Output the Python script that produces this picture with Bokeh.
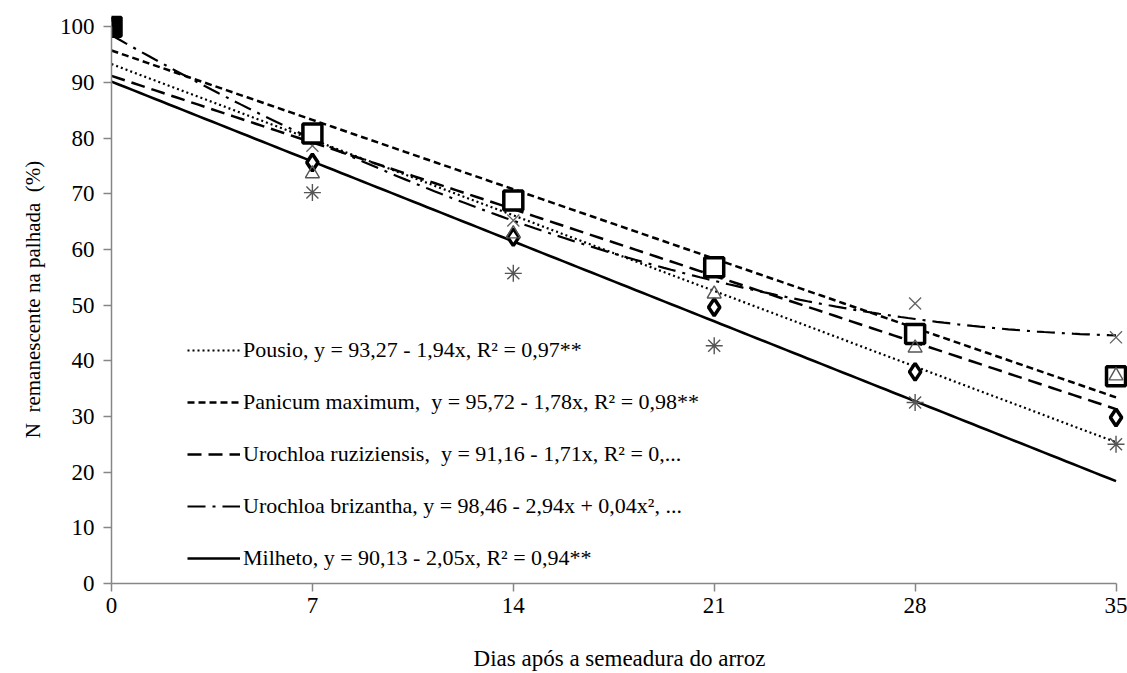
import numpy as np
from bokeh.plotting import figure
from bokeh.models import Legend, LegendItem, FixedTicker
from bokeh.embed import file_html
from bokeh.resources import INLINE

# ---------------- data ----------------
days = [0, 7, 14, 21, 28, 35]
pousio = [100, 75.6, 62.2, 49.6, 38.0, 29.8]
panicum = [100, 80.8, 68.8, 56.8, 44.8, 37.2]
ruziziensis = [100, 73.6, 62.8, 52.0, 42.3, 37.3]
brizantha = [100, 78.6, 65.2, 56.2, 50.3, 44.2]
milheto = [100, 70.2, 55.7, 42.7, 32.5, 25.0]

# regression coefficients (a, b, c) for y = a + b x + c x^2, as printed in the legend
coef_pousio = [93.27, -1.94, 0.0]
coef_panicum = [95.72, -1.78, 0.0]
coef_ruzi = [91.16, -1.71, 0.0]
coef_briz = [98.46, -2.94, 0.04]
coef_milheto = [90.13, -2.05, 0.0]

labels = [
    "Pousio, y = 93,27 - 1,94x, R\u00b2 = 0,97**",
    "Panicum maximum,\u00a0 y = 95,72 - 1,78x, R\u00b2 = 0,98**",
    "Urochloa ruziziensis,\u00a0 y = 91,16 - 1,71x, R\u00b2 = 0,...",
    "Urochloa brizantha, y = 98,46 - 2,94x + 0,04x\u00b2, ...",
    "Milheto, y = 90,13 - 2,05x, R\u00b2 = 0,94**",
]
x_title = "Dias após a semeadura do arroz"
y_title = "N\u00a0 remanescente na palhada\u00a0 (%)"
x_ticks = [0, 7, 14, 21, 28, 35]
y_ticks = [0, 10, 20, 30, 40, 50, 60, 70, 80, 90, 100]

FONT = "Liberation Serif"
AX = "#868686"

p = figure(width=1127, height=673, x_range=(0, 35.4), y_range=(0, 102),
           output_backend="svg", toolbar_location=None,
           min_border_left=111, min_border_right=0,
           min_border_top=15, min_border_bottom=90)
p.outline_line_color = None
p.xgrid.grid_line_color = None
p.ygrid.grid_line_color = None

for ax in (p.xaxis[0], p.yaxis[0]):
    ax.axis_line_color = AX
    ax.axis_line_width = 1.5
    ax.major_tick_line_color = AX
    ax.major_tick_line_width = 1.5
    ax.major_tick_out = 8
    ax.major_tick_in = 0
    ax.minor_tick_line_color = None
    ax.major_label_text_font = FONT
    ax.major_label_text_font_size = "23px"
    ax.major_label_text_color = "black"
    ax.axis_label_text_font = FONT
    ax.axis_label_text_font_style = "normal"
    ax.axis_label_text_color = "black"

p.xaxis.axis_label_text_font_size = "23px"
p.yaxis.axis_label_text_font_size = "21px"
p.xaxis.ticker = FixedTicker(ticks=x_ticks)
p.yaxis.ticker = FixedTicker(ticks=y_ticks)
p.xaxis.bounds = (0, 35)
p.yaxis.bounds = (0, 100)
p.xaxis.major_label_standoff = 6
p.yaxis.major_label_standoff = 9
p.xaxis.axis_label = x_title
p.yaxis.axis_label = y_title
p.xaxis.axis_label_standoff = 30
p.yaxis.axis_label_standoff = 12

# regression lines
xs = np.linspace(0, 35, 141)
def curve(c):
    return c[0] + c[1] * xs + c[2] * xs ** 2

styles = [
    (coef_pousio, 2.2, "2 3"),
    (coef_panicum, 2.5, "7 4"),
    (coef_ruzi, 2.5, "14 7"),
    (coef_briz, 2.2, "18 7 3 7"),
    (coef_milheto, 2.6, "solid"),
]
line_renderers = []
for coef, lw, dash in styles:
    r = p.line(xs, curve(coef), line_color="black", line_width=lw, line_dash=dash)
    line_renderers.append(r)

# markers
sq_fill = ["black" if d == 0 else "white" for d in days]
p.scatter(days, milheto, marker="asterisk", size=17, line_color="#555555", line_width=1.4)
p.scatter(days, brizantha, marker="x", size=17, line_color="#666666", line_width=1.4)
p.scatter(days, pousio, marker="diamond", size=17, line_color="black", line_width=3.5,
          fill_color="white")
p.scatter(x=days, y=panicum, marker="square", size=19, line_color="black", line_width=3.5,
          fill_color=sq_fill)
p.scatter(days[1:], ruziziensis[1:], marker="triangle", size=14, line_color="#555555",
          line_width=1.4, fill_alpha=0)

legend = Legend(items=[LegendItem(label=l, renderers=[r]) for l, r in zip(labels, line_renderers)],
                location=(76, 10), padding=0, margin=0, spacing=22,
                glyph_width=53, glyph_height=30, label_height=30, label_standoff=3,
                label_text_font=FONT, label_text_font_size="22px", label_text_color="black",
                background_fill_alpha=0, border_line_alpha=0)
p.add_layout(legend, "center")

open("out.html", "w").write(file_html(p, INLINE))
